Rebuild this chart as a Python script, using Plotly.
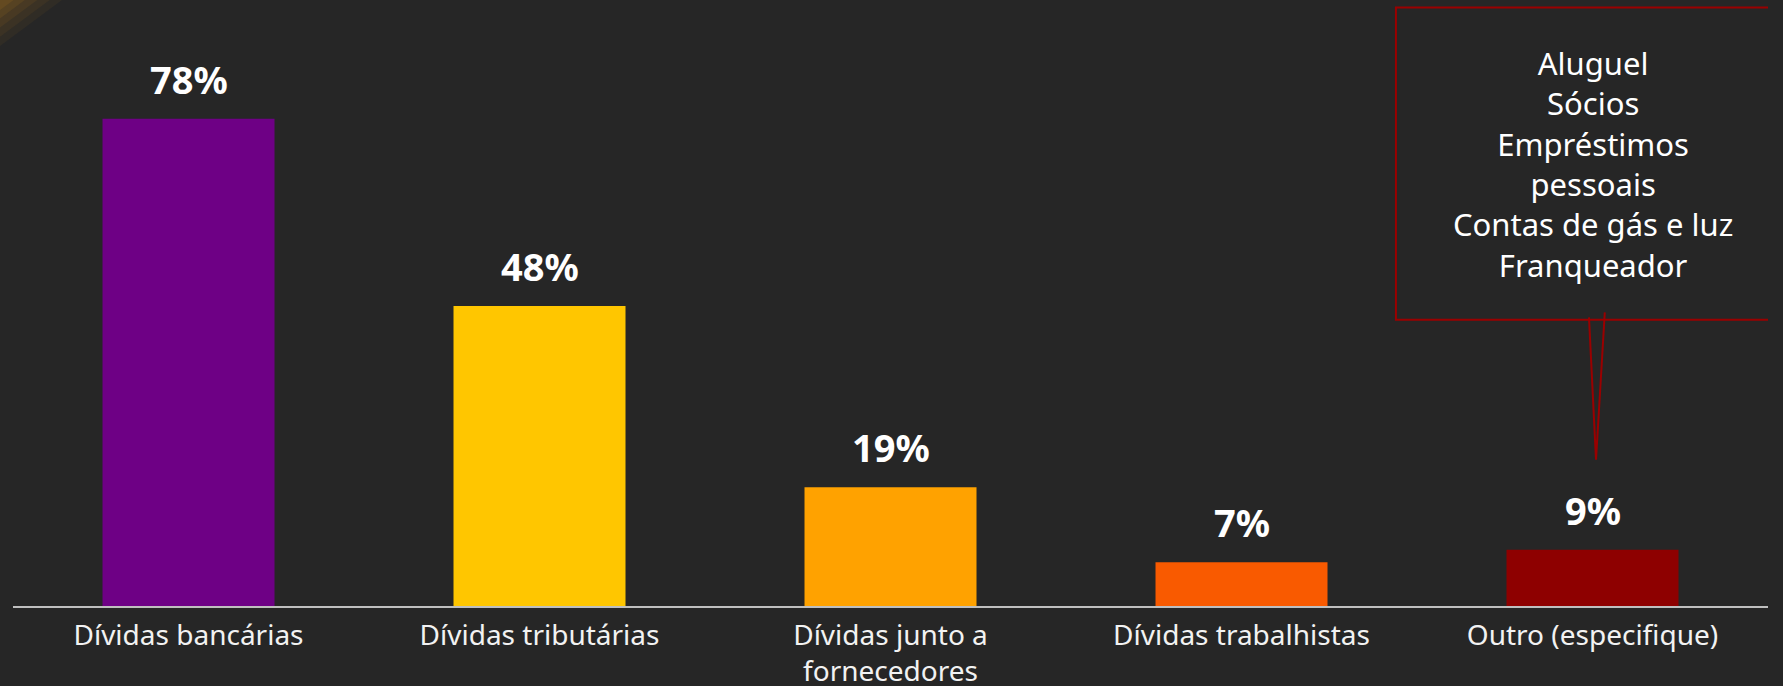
import plotly.graph_objects as go

categories = ["Dívidas bancárias", "Dívidas tributárias", "Dívidas junto a<br>fornecedores",
              "Dívidas trabalhistas", "Outro (especifique)"]
values = [78, 48, 19, 7, 9]
value_labels = ["78%", "48%", "19%", "7%", "9%"]
bar_colors = ["#6E0085", "#FFC600", "#FFA200", "#F95A00", "#8E0000"]
callout_lines = ["Aluguel", "Sócios", "Empréstimos", "pessoais", "Contas de gás e luz", "Franqueador"]

BG = "#262626"
RED = "#9A0000"

fig = go.Figure()
fig.add_trace(go.Bar(
    x=list(range(len(categories))), y=values,
    marker=dict(color=bar_colors, line=dict(width=0)),
    width=0.49, hoverinfo="skip", showlegend=False,
))

for i, (v, t) in enumerate(zip(values, value_labels)):
    fig.add_annotation(x=i, y=v, text=f"<b>{t}</b>", showarrow=False,
                       yanchor="bottom", yshift=12,
                       font=dict(family="Noto Sans", size=38, color="#FFFFFF"))

# callout box with pointer
fig.add_shape(type="rect", xref="x", yref="y", x0=3.44, x1=4.7, y0=45.8, y1=95.8,
              line=dict(color=RED, width=2), fillcolor=BG, layer="above")
fig.add_shape(type="path", xref="x", yref="y",
              path="M 3.99 46.2 L 4.01 23.4 L 4.035 47.0",
              line=dict(color=RED, width=2), layer="above")
fig.add_annotation(x=4.0, y=70.8, xref="x", yref="y", text="<br>".join(callout_lines),
                   showarrow=False, align="center",
                   font=dict(family="Noto Sans", size=31, color="#FFFFFF"))

# corner glow (decoration)
PW, PH = 1755.0, 606.0
for s, op in [(1.0, 0.07), (0.8, 0.08), (0.6, 0.10), (0.4, 0.12), (0.22, 0.14)]:
    gx, gy = 62 * s, 46 * s
    fig.add_shape(type="path", xref="paper", yref="paper",
                  path=f"M {-13 / PW} 1.0 L {(gx - 13) / PW} 1.0 L {-13 / PW} {1.0 - gy / PH} Z",
                  line=dict(width=0), fillcolor=f"rgba(190,130,30,{op})", layer="below")

fig.update_layout(
    width=1783, height=686,
    margin=dict(l=13, r=15, t=0, b=80),
    paper_bgcolor=BG, plot_bgcolor=BG,
    bargap=0.51,
    xaxis=dict(tickmode="array", tickvals=list(range(len(categories))), ticktext=categories,
               range=[-0.5, 4.5], showgrid=False, zeroline=False, automargin=False,
               showline=True, linecolor="#BFBFBF", linewidth=2,
               ticks="", ticklabelstandoff=3,
               tickfont=dict(family="Noto Sans", size=28, color="#F2F2F2")),
    yaxis=dict(range=[0, 97], visible=False, showgrid=False, zeroline=False, automargin=False),
)

fig.write_html("out.html", config={"displayModeBar": False},
               post_script="document.body.style.margin='0';document.body.style.background='#262626';")
